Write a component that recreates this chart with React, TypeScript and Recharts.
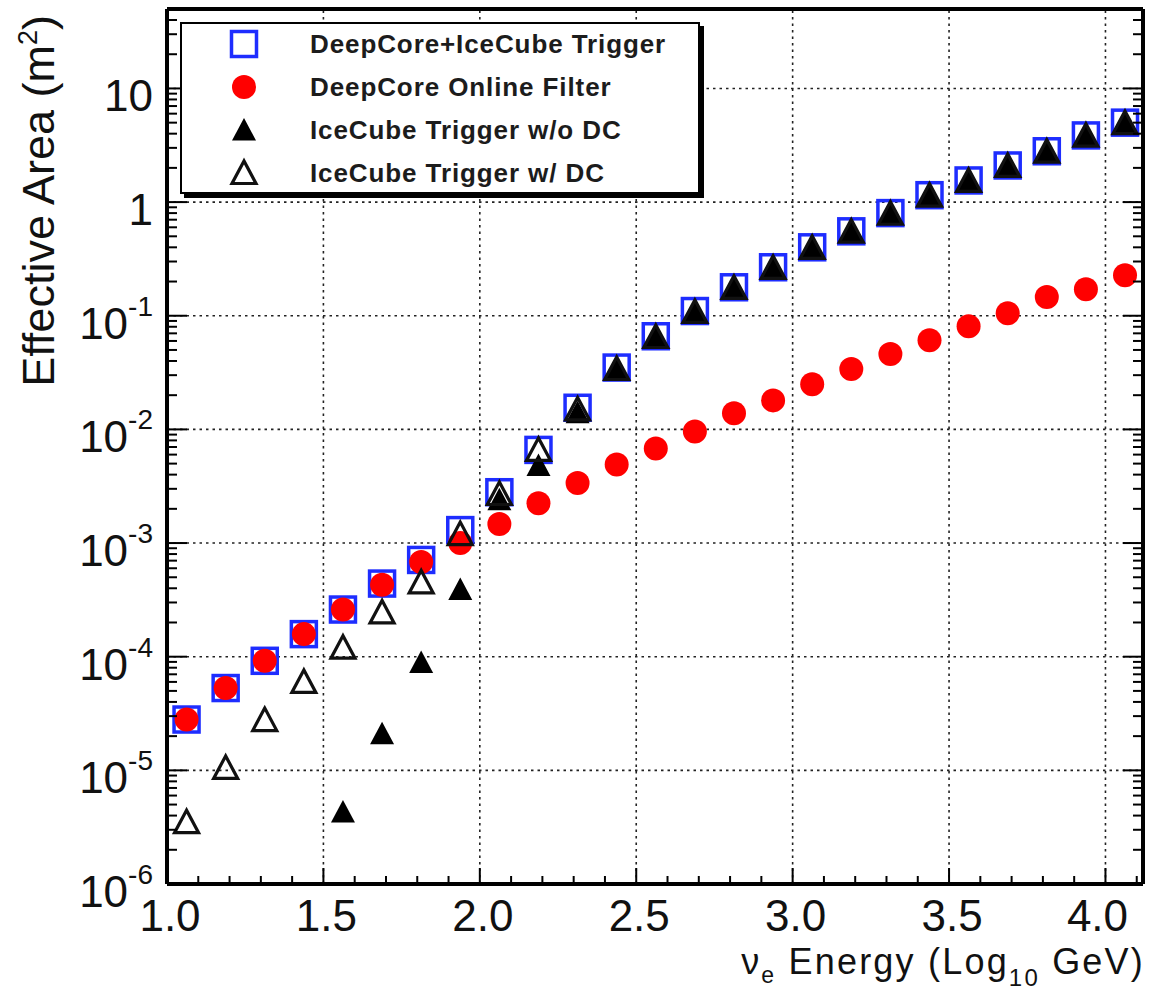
import { ScatterChart, Scatter, XAxis, YAxis, ReferenceLine, Legend } from 'recharts';

// bin centres, log10(E / GeV)
const energy = [
  1.0625, 1.1875, 1.3125, 1.4375, 1.5625, 1.6875, 1.8125, 1.9375, 2.0625, 2.1875,
  2.3125, 2.4375, 2.5625, 2.6875, 2.8125, 2.9375, 3.0625, 3.1875, 3.3125, 3.4375,
  3.5625, 3.6875, 3.8125, 3.9375, 4.0625,
];

// effective area in m^2 per bin
const dcIcTrigger = [
  2.8e-5, 5.3e-5, 9.2e-5, 1.58e-4, 2.6e-4, 4.4e-4, 7.1e-4, 1.3e-3, 2.8e-3, 6.6e-3,
  0.0155, 0.035, 0.066, 0.11, 0.178, 0.267, 0.4, 0.553, 0.8, 1.15,
  1.55, 2.1, 2.8, 3.86, 5.0,
];
const dcOnlineFilter = [
  2.8e-5, 5.3e-5, 9.2e-5, 1.58e-4, 2.6e-4, 4.3e-4, 6.8e-4, 1.0e-3, 1.47e-3, 2.24e-3,
  3.37e-3, 4.9e-3, 6.8e-3, 9.6e-3, 0.0139, 0.018, 0.025, 0.034, 0.046, 0.061,
  0.081, 0.105, 0.146, 0.171, 0.227,
];
const icTriggerNoDC = [
  null, null, null, null, 4.3e-6, 2.1e-5, 8.9e-5, 3.9e-4, 2.4e-3, 4.8e-3,
  0.014, 0.033, 0.065, 0.108, 0.175, 0.263, 0.395, 0.55, 0.79, 1.14,
  1.54, 2.08, 2.78, 3.83, 4.95,
];
const icTriggerWithDC = [
  3.5e-6, 1.05e-5, 2.77e-5, 6.0e-5, 1.2e-4, 2.45e-4, 4.5e-4, 1.2e-3, 2.7e-3, 6.6e-3,
  0.015, 0.034, 0.065, 0.108, 0.176, 0.264, 0.396, 0.55, 0.79, 1.14,
  1.54, 2.08, 2.78, 3.84, 4.96,
];

const seriesNames = [
  'DeepCore+IceCube Trigger',
  'DeepCore Online Filter',
  'IceCube Trigger w/o DC',
  'IceCube Trigger w/ DC',
];

const xMajor = [1.0, 1.5, 2.0, 2.5, 3.0, 3.5, 4.0];
const xTicks = Array.from({ length: 32 }, (_, i) => Math.round((1 + i * 0.1) * 10) / 10);
const yDecades = [1e-6, 1e-5, 1e-4, 1e-3, 1e-2, 1e-1, 1, 10];
const yTicks = yDecades.flatMap((d) => [1, 2, 3, 4, 5, 6, 7, 8, 9].map((m) => m * d)).filter((v) => v <= 50);

const FONT = "'Liberation Sans', Arial, Helvetica, sans-serif";
const BLUE = '#1e2dff';

const toPoints = (ys: (number | null)[]) =>
  energy.map((e, i) => ({ e, a: ys[i] })).filter((p) => p.a != null);

const isMajorX = (v: number) => Math.abs(v * 2 - Math.round(v * 2)) < 1e-6;
const isDecade = (v: number) => Math.abs(Math.log10(v) - Math.round(Math.log10(v))) < 1e-6;

// marker glyphs
const square = (cx: number, cy: number) => (
  <rect x={cx - 12.5} y={cy - 12.5} width={25} height={25} fill="none" stroke={BLUE} strokeWidth={3.5} />
);
const dot = (cx: number, cy: number) => <circle cx={cx} cy={cy} r={12} fill="#ff0000" />;
const triPoints = (cx: number, cy: number) =>
  `${cx},${cy - 12} ${cx - 12},${cy + 10.5} ${cx + 12},${cy + 10.5}`;
const solidTri = (cx: number, cy: number) => <polygon points={triPoints(cx, cy)} fill="#000" />;
const openTri = (cx: number, cy: number) => (
  <polygon points={triPoints(cx, cy)} fill="none" stroke="#111" strokeWidth={3.2} strokeLinejoin="miter" />
);
const glyphs = [square, dot, solidTri, openTri];

const BottomTick = ({ x, y, payload }: any) => {
  const major = isMajorX(payload.value);
  const shift = payload.value === 4 ? -8 : 3;
  return (
    <g>
      <line x1={x} x2={x} y1={y} y2={y - (major ? 16 : 8)} stroke="#000" strokeWidth={2} />
      {major && (
        <text x={x + shift} y={y + 47} textAnchor="middle" fontSize={44} fontFamily={FONT} fill="#111">
          {payload.value.toFixed(1)}
        </text>
      )}
    </g>
  );
};

const TopTick = ({ x, y, payload }: any) => (
  <line x1={x} x2={x} y1={y} y2={y + (isMajorX(payload.value) ? 16 : 8)} stroke="#000" strokeWidth={2} />
);

const LeftTick = ({ x, y, payload }: any) => {
  const v = payload.value;
  const major = isDecade(v);
  const exp = Math.round(Math.log10(v));
  return (
    <g>
      <line x1={x} x2={x + (major ? 20 : 10)} y1={y} y2={y} stroke="#000" strokeWidth={2} />
      {major && (
        <text x={153} y={y + 23} textAnchor="end" fontSize={44} fontFamily={FONT} fill="#111">
          {exp === 0 ? '1' : exp === 1 ? '10' : (
            <>
              <tspan>10</tspan>
              <tspan dy={-23} fontSize={28}>{exp}</tspan>
            </>
          )}
        </text>
      )}
    </g>
  );
};

const RightTick = ({ x, y, payload }: any) => (
  <line x1={x} x2={x - (isDecade(payload.value) ? 20 : 10)} y1={y} y2={y} stroke="#000" strokeWidth={2} />
);

const XTitle = () => (
  <text x={1145} y={974} textAnchor="end" fontSize={36} letterSpacing={2.2} fontFamily={FONT} fill="#111">
    <tspan>ν</tspan>
    <tspan dy={9} fontSize={23}>e</tspan>
    <tspan dy={-9}> Energy (Log</tspan>
    <tspan dy={12} fontSize={24}>10</tspan>
    <tspan dy={-12}> GeV)</tspan>
  </text>
);

const YTitle = () => (
  <text
    transform="translate(54, 15) rotate(-90)"
    textAnchor="end"
    fontSize={45}
    fontFamily={FONT}
    fill="#111"
  >
    <tspan>Effective Area (m</tspan>
    <tspan dy={-17} fontSize={27}>2</tspan>
    <tspan dy={17}>)</tspan>
  </text>
);

const LegendBox = () => (
  <div
    style={{
      position: 'relative',
      width: 516,
      height: 168,
      background: '#fff',
      border: '2px solid #000',
      boxShadow: '4px 4px 0 #000',
      fontFamily: FONT,
    }}
  >
    {seriesNames.map((name, i) => (
      <div key={name} style={{ position: 'absolute', left: 0, top: i * 43, height: 43, width: '100%' }}>
        <svg width={40} height={40} style={{ position: 'absolute', left: 42, top: 0 }}>
          {glyphs[i](20, 20)}
        </svg>
        <span
          style={{
            position: 'absolute',
            left: 128,
            top: 5,
            fontSize: 26,
            fontWeight: 'bold',
            letterSpacing: 0.9,
            color: '#1c1c1c',
            whiteSpace: 'nowrap',
          }}
        >
          {name}
        </span>
      </div>
    ))}
  </div>
);

const seriesData = [dcIcTrigger, dcOnlineFilter, icTriggerNoDC, icTriggerWithDC];

export default function App() {
  return (
    <div style={{ position: 'absolute', left: 0, top: 0, width: 1149, height: 992, background: '#fff' }}>
      <ScatterChart width={1149} height={992} margin={{ top: 0, right: 0, bottom: 0, left: 0 }}>
        <XAxis
          xAxisId="x"
          dataKey="e"
          type="number"
          domain={[1, 4.12]}
          allowDataOverflow
          ticks={xTicks}
          interval={0}
          height={108}
          tickSize={0}
          tickMargin={0}
          tick={BottomTick}
          axisLine={{ stroke: '#000', strokeWidth: 4 }}
          label={{ content: XTitle }}
        />
        <XAxis
          xAxisId="xt"
          orientation="top"
          type="number"
          domain={[1, 4.12]}
          allowDataOverflow
          ticks={xTicks}
          interval={0}
          height={9}
          tickSize={0}
          tickMargin={0}
          tick={TopTick}
          axisLine={{ stroke: '#000', strokeWidth: 4 }}
        />
        <YAxis
          yAxisId="y"
          dataKey="a"
          type="number"
          scale="log"
          domain={[1e-6, 50]}
          allowDataOverflow
          ticks={yTicks}
          interval={0}
          width={167}
          tickSize={0}
          tickMargin={0}
          tick={LeftTick}
          axisLine={{ stroke: '#000', strokeWidth: 4 }}
          label={{ content: YTitle }}
        />
        <YAxis
          yAxisId="yr"
          orientation="right"
          type="number"
          scale="log"
          domain={[1e-6, 50]}
          allowDataOverflow
          ticks={yTicks}
          interval={0}
          width={6}
          tickSize={0}
          tickMargin={0}
          tick={RightTick}
          axisLine={{ stroke: '#000', strokeWidth: 4 }}
        />
        {xMajor.slice(1).map((v) => (
          <ReferenceLine key={`vx${v}`} xAxisId="x" yAxisId="y" x={v} stroke="#222" strokeWidth={1.6} strokeDasharray="2.5 4" />
        ))}
        {yDecades.slice(1).map((v) => (
          <ReferenceLine key={`hy${v}`} xAxisId="x" yAxisId="y" y={v} stroke="#222" strokeWidth={1.6} strokeDasharray="2.5 4" />
        ))}
        {seriesData.map((ys, i) => (
          <Scatter
            key={seriesNames[i]}
            name={seriesNames[i]}
            xAxisId="x"
            yAxisId="y"
            data={toPoints(ys)}
            isAnimationActive={false}
            shape={(p: any) => glyphs[i](p.cx, p.cy)}
          />
        ))}
        <Legend
          layout="vertical"
          align="center"
          verticalAlign="middle"
          content={LegendBox}
          wrapperStyle={{ position: 'absolute', left: 180, top: 22, width: 520, height: 172 }}
        />
      </ScatterChart>
    </div>
  );
}
